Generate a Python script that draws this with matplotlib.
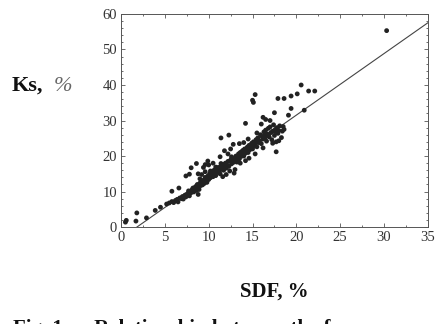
import matplotlib
matplotlib.use("Agg")
import matplotlib.pyplot as plt
from matplotlib.ticker import MultipleLocator

# --- data ---
sdf = [30.3, 20.55, 21.4, 22.1, 20.1, 19.4, 17.9, 18.6, 15.3, 15.0, 15.1, 20.9, 19.4,
       17.5, 19.1, 16.2, 14.2, 17.7, 11.4, 12.3, 12.8, 8.0, 8.6, 9.9, 9.6, 7.4, 7.8,
       6.6, 5.8, 4.5, 3.9, 2.9, 1.8, 1.7, 0.6, 0.5, 8.8,
       5.2, 5.5, 5.8, 6.0, 6.2, 6.4, 6.5, 6.7, 6.9, 7.0, 7.1, 7.3, 7.4, 7.6, 7.7, 7.8,
       8.0, 8.1, 8.2, 8.3, 8.4, 8.5, 8.6, 8.7, 8.8, 8.9, 9.0, 9.1, 9.2, 9.3, 9.4, 9.5,
       9.6, 9.7, 9.8, 9.9, 10.0, 10.1, 10.2, 10.3, 10.4, 10.5, 10.6, 10.7, 10.8, 10.9,
       11.0, 11.1, 11.2, 11.3, 11.4, 11.5, 11.6, 11.7, 11.8, 11.9, 12.0, 12.1, 12.2,
       12.3, 12.4, 12.5, 12.6, 12.7, 12.8, 12.9, 13.0, 13.1, 13.2, 13.3, 13.4, 13.5,
       13.6, 13.7, 13.8, 13.9, 14.0, 14.1, 14.2, 14.3, 14.4, 14.5, 14.6, 14.7, 14.8,
       14.9, 15.0, 15.1, 15.2, 15.3, 15.4, 15.5, 15.6, 15.7, 15.8, 15.9, 16.0, 16.1,
       16.2, 16.3, 16.4, 16.5, 16.6, 16.7, 16.8, 16.9, 17.0, 17.1, 17.2, 17.3, 17.4,
       17.5, 17.6, 17.7, 17.8, 17.9, 18.0, 18.1, 18.3, 18.4, 18.5, 17.0, 16.5, 16.0,
       15.5, 14.5, 14.0, 13.5, 12.5, 11.8, 12.2, 11.3, 10.5, 10.0, 9.4, 8.8, 9.2,
       12.0, 13.0, 14.2, 15.3, 16.2, 17.3, 18.0, 18.6, 14.6, 13.6, 11.6,
       10.2, 10.8, 11.4, 12.6, 13.2, 13.8, 14.4, 15.0, 15.6, 16.4, 16.8, 17.6, 9.0, 9.6]
ks = [55.3, 40.0, 38.3, 38.3, 37.5, 36.9, 36.2, 36.2, 37.3, 35.7, 35.1, 32.9, 33.4,
      32.2, 31.5, 30.9, 29.2, 21.2, 25.1, 25.9, 23.3, 16.7, 17.9, 18.6, 17.6, 14.4, 14.9,
      11.0, 10.1, 5.6, 4.7, 2.6, 4.0, 1.7, 1.9, 1.4, 9.2,
      6.5, 6.8, 7.2, 6.9, 7.5, 7.8, 7.1, 8.2, 8.0, 8.6, 7.9, 9.0, 8.5, 9.4, 10.2, 8.8,
      9.7, 10.5, 11.0, 9.9, 10.8, 11.4, 10.3, 12.0, 11.2, 10.6, 12.4, 11.7, 12.9, 11.9,
      13.2, 12.3, 14.0, 13.1, 12.6, 14.4, 13.4, 15.0, 13.9, 14.6, 15.5, 14.2, 16.0,
      15.1, 14.5, 16.3, 15.4, 16.8, 15.8, 15.0, 17.2, 16.3, 17.6, 16.0, 17.0, 18.0,
      16.6, 17.4, 18.5, 17.1, 15.8, 18.9, 17.8, 19.4, 18.2, 15.2, 19.0, 20.0, 18.6,
      19.6, 20.6, 19.2, 21.0, 19.9, 20.4, 21.6, 20.0, 22.0, 20.8, 21.4, 22.5, 21.0,
      23.0, 21.8, 22.3, 23.6, 22.0, 24.0, 22.8, 23.4, 24.6, 22.6, 25.1, 23.8, 24.3,
      26.0, 23.5, 25.5, 24.8, 26.8, 25.0, 27.3, 24.2, 26.2, 27.8, 25.4, 28.2, 26.6,
      24.6, 27.0, 28.8, 25.8, 27.5, 24.0, 28.0, 26.4, 27.2, 28.5, 25.2, 27.0, 28.3,
      30.0, 30.3, 29.0, 26.5, 24.8, 23.8, 23.5, 22.0, 21.5, 20.6, 19.8, 18.0, 17.5,
      16.8, 15.0, 14.8, 14.8, 16.2, 18.7, 20.6, 22.3, 23.6, 24.3, 27.5, 19.4, 18.0,
      14.2,
      15.8, 16.9, 17.9, 19.8, 18.3, 21.3, 21.9, 23.2, 24.0, 26.0, 25.7, 26.9, 13.6, 15.6]
fit_x = [1.8, 35.0]
fit_y = [0.0, 57.5]
x_ticks = [0, 5, 10, 15, 20, 25, 30, 35]
y_ticks = [0, 10, 20, 30, 40, 50, 60]

plt.rcParams['font.family'] = ['Liberation Serif', 'DejaVu Serif']

fig = plt.figure(figsize=(4.37, 3.24), dpi=100)
ax = fig.add_axes([0.277, 0.299, 0.702, 0.658])

ax.scatter(sdf, ks, s=12, color='#222222', edgecolors='none', zorder=3)
ax.plot(fit_x, fit_y, color='#444444', lw=0.8, zorder=2)

ax.set_xlim(0, 35)
ax.set_ylim(0, 60)
ax.set_xticks(x_ticks)
ax.set_yticks(y_ticks)
ax.xaxis.set_minor_locator(MultipleLocator(2.5))
ax.yaxis.set_minor_locator(MultipleLocator(2))
ax.tick_params(which='both', direction='in', top=True, right=True,
               colors='#555555', labelcolor='#333333', width=0.6)
ax.tick_params(which='major', length=3, labelsize=10.5, pad=3)
ax.tick_params(which='minor', length=1.5)
for sp in ax.spines.values():
    sp.set_color('#555555')
    sp.set_linewidth(0.7)

fig.text(12 / 437, 1 - 86 / 324, 'Ks,', fontsize=16, fontweight='bold',
         ha='left', va='center', color='#111111')
fig.text(54 / 437, 1 - 86 / 324, '%', fontsize=16, fontstyle='italic',
         ha='left', va='center', color='#666666')
fig.text(274 / 437, 1 - 292 / 324, 'SDF, %', fontsize=15, fontweight='bold',
         ha='center', va='center', color='#111111')
fig.text(13 / 437, 1 - 319 / 324, 'Fig. 1.     Relationship between the f',
         fontsize=15, fontweight='bold', ha='left', va='top', color='#111111')

fig.savefig('out.png', dpi=100)
